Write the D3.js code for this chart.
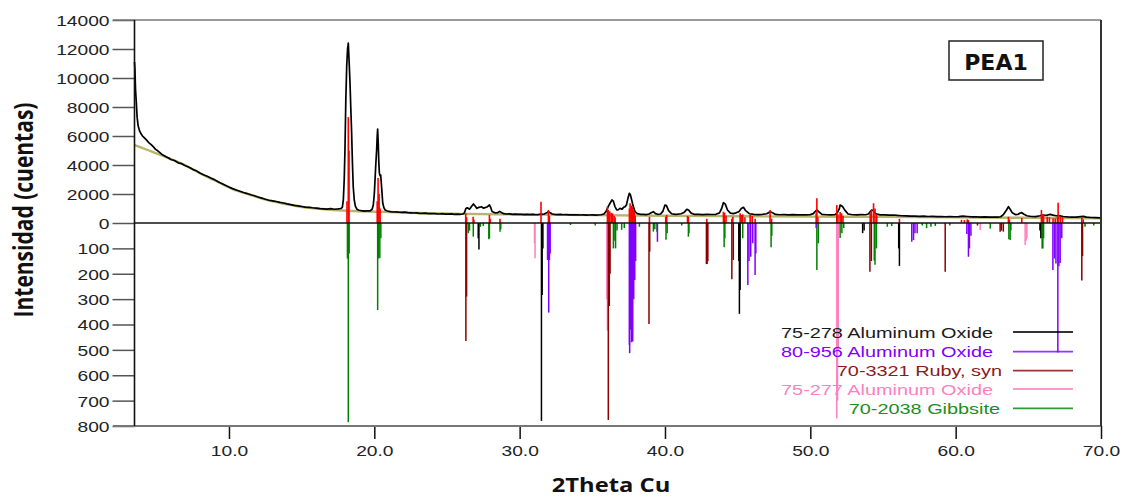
<!DOCTYPE html>
<html>
<head>
<meta charset="utf-8">
<script src="https://cdn.jsdelivr.net/npm/d3@7"></script>
<style>
  body { margin: 0; background: #fff; }
  svg { display: block; }
</style>
</head>
<body>
<svg id="chart" width="1125" height="497"></svg>
<script>
// ---- axis ticks ----
const xTicks = [10, 20, 30, 40, 50, 60, 70];
const upperTicks = [0, 2000, 4000, 6000, 8000, 10000, 12000, 14000];
const lowerTicks = [100, 200, 300, 400, 500, 600, 700, 800];

// ---- measured pattern: [2theta, counts] ----
const scan = [
  [3.50,11100],[3.53,10600],[3.57,9200],[3.62,8400],[3.68,7300],[3.75,6700],[3.85,6350],[3.95,6150],
  [4.05,6000],[4.2,5850],[4.35,5700],[4.5,5520],[4.65,5400],[4.8,5250],[4.95,5080],[5.1,4980],
  [5.25,4850],[5.4,4720],[5.55,4640],[5.7,4560],[5.85,4480],[6.0,4380],
  [6.25,4310],[6.5,4150],[6.75,4090],[7.0,3950],[7.25,3840],[7.5,3700],[7.75,3600],[8.0,3450],
  [8.25,3330],[8.5,3220],[8.75,3100],[9.0,2990],[9.25,2840],[9.5,2730],[9.75,2600],[10.0,2480],
  [10.25,2370],[10.5,2280],[10.75,2190],[11.0,2100],[11.25,2030],[11.5,1950],[11.75,1880],[12.0,1790],
  [12.25,1720],[12.5,1640],[12.75,1570],[13.0,1530],[13.25,1480],[13.5,1420],[13.75,1380],[14.0,1320],
  [14.25,1270],[14.5,1220],[14.75,1180],[15.0,1140],[15.25,1100],[15.5,1080],[15.75,1050],[16.0,1030],
  [16.25,990],[16.5,980],[16.75,960],[17.0,990],[17.25,950],[17.5,970],
  [17.7,1000],[17.8,1080],[17.87,1600],[17.93,3000],[17.98,5000],[18.04,8500],[18.1,10800],[18.16,12000],
  [18.21,12400],[18.26,11300],[18.33,9600],[18.38,8000],[18.44,6200],[18.5,4000],[18.55,2500],[18.62,1600],
  [18.7,1150],[18.8,950],[18.95,880],[19.1,850],[19.3,820],[19.5,840],[19.7,830],[19.85,950],
  [19.93,1240],[20.0,2000],[20.05,2960],[20.1,4000],[20.16,5030],[20.2,6000],[20.23,6480],[20.27,5500],
  [20.31,4200],[20.35,3430],[20.4,3250],[20.44,3300],[20.5,2500],[20.58,1380],[20.66,1050],[20.74,900],
  [20.9,830],[21.1,790],[21.3,760],[21.5,770],[21.7,740],[21.9,730],[22.1,745],[22.3,710],
  [22.5,700],[22.7,690],[22.9,700],[23.1,670],[23.3,665],[23.5,680],[23.7,650],[23.9,640],
  [24.1,655],[24.3,630],[24.5,620],[24.7,640],[24.9,615],[25.1,610],[25.3,625],[25.5,600],
  [25.7,610],[25.9,600],[26.1,620],[26.2,700],[26.3,1000],[26.4,1050],[26.55,950],[26.7,1150],
  [26.82,1310],[26.95,1150],[27.05,1010],[27.2,1080],[27.39,1120],[27.5,1020],[27.62,1060],[27.75,1100],
  [27.92,1240],[28.0,1100],[28.1,800],[28.3,700],[28.5,720],[28.62,800],[28.75,720],[28.9,640],
  [29.1,620],[29.3,630],[29.5,600],[29.7,610],[29.9,590],[30.1,600],[30.3,580],[30.5,590],
  [30.7,575],[30.9,590],[31.1,570],[31.3,580],[31.45,620],[31.55,600],[31.7,620],[31.85,700],
  [31.98,780],[32.1,700],[32.25,620],[32.4,600],[32.6,580],[32.8,590],[33.0,570],[33.2,580],
  [33.4,560],[33.6,570],[33.8,555],[34.0,560],[34.2,550],[34.4,565],[34.6,545],[34.8,550],
  [35.0,560],[35.2,545],[35.4,550],[35.6,570],[35.8,620],[35.95,800],[36.1,1150],[36.22,1360],
  [36.35,1590],[36.45,1500],[36.55,1150],[36.68,900],[36.8,920],[36.9,1010],[37.05,960],[37.15,1080],
  [37.25,1120],[37.35,1250],[37.45,1700],[37.55,2050],[37.62,1950],[37.71,1590],[37.8,1200],[37.94,780],
  [38.1,650],[38.3,600],[38.5,590],[38.7,580],[38.9,620],[39.05,700],[39.2,780],[39.35,650],
  [39.5,600],[39.7,620],[39.85,800],[40.0,1240],[40.1,1200],[40.25,850],[40.45,640],[40.7,600],
  [40.9,610],[41.1,640],[41.3,720],[41.5,940],[41.62,900],[41.8,680],[42.0,600],[42.3,590],
  [42.6,580],[42.9,600],[43.2,585],[43.5,600],[43.75,700],[43.9,1000],[44.02,1400],[44.15,1300],
  [44.3,900],[44.5,680],[44.7,650],[44.9,700],[45.1,800],[45.25,1000],[45.4,1080],[45.55,850],
  [45.8,640],[46.1,600],[46.4,580],[46.7,600],[47.0,640],[47.23,780],[47.4,700],[47.6,590],
  [47.9,570],[48.2,580],[48.5,560],[48.8,575],[49.1,560],[49.4,570],[49.7,555],[50.0,580],
  [50.2,650],[50.35,800],[50.45,900],[50.6,760],[50.8,600],[51.1,570],[51.4,560],[51.7,580],
  [51.85,700],[52.0,1000],[52.05,1240],[52.2,1150],[52.4,850],[52.6,620],[52.9,570],[53.2,560],
  [53.5,580],[53.8,570],[54.0,620],[54.12,780],[54.23,900],[54.35,850],[54.5,640],[54.8,560],
  [55.1,560],[55.4,540],[55.7,550],[56.0,520],[56.3,500],[56.6,490],[56.9,470],[57.2,480],
  [57.5,460],[57.8,470],[58.1,450],[58.4,460],[58.7,440],[59.0,450],[59.3,430],[59.6,445],
  [59.9,430],[60.2,440],[60.5,470],[60.8,450],[61.1,420],[61.4,430],[61.7,410],[62.0,420],
  [62.3,400],[62.6,410],[62.9,400],[63.1,430],[63.3,600],[63.5,900],[63.63,1120],[63.75,950],
  [63.9,700],[64.1,580],[64.3,600],[64.45,690],[64.55,710],[64.7,600],[64.9,500],[65.2,450],
  [65.5,440],[65.8,500],[66.0,550],[66.2,520],[66.5,590],[66.7,540],[66.9,500],[67.1,510],
  [67.4,450],[67.7,420],[68.0,400],[68.3,410],[68.6,440],[68.8,460],[69.0,410],[69.3,380],
  [69.6,370],[70.0,360]
];

// ---- fitted background: [2theta, counts] ----
const background = [
  [3.5,5380],[4.5,5000],[5.7,4530],[7.0,3980],[8.0,3430],[9.0,2950],[10.3,2320],[11.5,1930],
  [12.6,1590],[13.8,1330],[14.9,1120],[16.0,1000],[17.2,900],[18.5,830],[20.4,780],[23.0,690],
  [26.0,630],[30.0,590],[35.0,540],[40.0,500],[45.0,470],[50.0,440],[55.0,420],[60.0,390],
  [65.0,360],[70.0,330]
];

// ---- identified peaks (upward red sticks): [2theta, counts] ----
const peakSticks = [
  [18.12,1500],[18.21,7300],[18.26,5000],[20.2,1500],[20.26,3100],[20.33,2000],[20.4,1000],
  [26.29,670],[26.35,400],[26.8,430],[26.85,250],[27.92,550],[27.97,300],[28.65,290],
  [31.47,1470],[31.98,900],[32.05,500],
  [36.04,1120],[36.1,900],[36.2,800],[36.3,700],[36.4,660],[36.5,500],[36.57,400],
  [37.55,1000],[37.6,1360],[37.68,1200],[37.75,1100],[37.82,900],[37.9,800],[37.95,500],
  [38.93,430],[40.05,430],[40.12,550],[41.55,480],[41.61,430],[42.88,290],
  [44.02,780],[44.1,710],[44.2,500],[44.6,290],[44.67,430],[45.17,670],[45.25,550],[45.35,600],[45.5,400],
  [45.86,550],[46.0,480],[46.2,290],
  [47.23,900],[47.33,300],
  [50.4,670],[50.45,1700],[50.52,400],
  [51.82,1240],[51.9,600],[52.05,760],[52.15,670],[52.25,500],
  [54.12,670],[54.2,900],[54.35,1360],[54.45,1000],[54.57,600],
  [56.13,290],
  [60.4,220],[60.6,200],[60.8,250],[60.88,200],
  [63.63,430],[63.7,250],[64.55,340],
  [65.9,900],[65.98,600],[66.05,550],[66.3,430],[66.45,400],[66.7,320],[66.85,320],[67.0,450],[67.05,1400],[67.2,450],[67.35,400],
  [68.68,340],[68.78,250]
];

// ---- reference patterns (downward sticks): [2theta, relative intensity] ----
const corundum278 = [
  [27.15,60],[27.2,104],[31.5,780],[31.55,284],[31.6,100],[45.08,150],[45.12,358],[45.17,264],
  [53.6,40],[53.7,30],[56.08,100],[56.13,169],[65.8,30],[65.86,60]
];
const alumina956 = [
  [31.92,146],[32.0,353],[32.05,146],[32.1,120],
  [37.55,480],[37.57,513],[37.62,420],[37.7,470],[37.78,467],[37.85,300],[37.92,225],[37.98,150],
  [39.48,74],[45.7,244],[45.78,150],[45.9,133],[46.04,80],[46.2,205],[46.25,120],[50.4,20],
  [56.98,74],[57.1,67],[57.2,40],[57.35,40],[60.77,43],[60.88,133],[60.95,100],[61.05,50],
  [66.69,185],[66.8,140],[66.9,160],[67.03,510],[67.1,170],[67.19,158],[67.3,60]
];
const ruby3321 = [
  [26.3,465],[26.35,290],[36.1,776],[36.17,327],[36.22,200],[38.9,398],[38.95,113],
  [42.85,162],[42.9,162],[42.95,150],[44.6,222],[44.7,146],[54.1,192],[54.2,150],[59.28,192],
  [61.5,10],[63.06,34],[63.15,30],[63.28,34],[68.68,227],[68.73,130]
];
const alumina277 = [
  [31.02,80],[31.06,139],[36.0,300],[36.04,424],[51.82,770],[51.87,700],[51.92,500],
  [61.69,28],[64.78,87],[64.85,70],[64.9,60]
];
const gibbsite2038 = [
  [18.15,140],[18.21,785],[18.27,120],[20.23,343],[20.3,140],[20.38,138],[20.45,60],
  [26.47,40],[26.55,30],[26.81,54],[27.3,15],[27.5,12],[27.88,64],[27.92,60],[28.65,34],[28.7,25],
  [33.5,8],[35.2,10],[36.45,100],[36.5,70],[36.6,100],[36.7,30],[37.02,27],[37.2,20],[38.24,15],
  [39.2,34],[39.3,25],[39.45,34],[40.07,66],[40.15,40],[41.15,10],[41.61,54],[41.65,40],
  [44.07,96],[44.12,60],[45.35,60],[47.3,96],[47.35,50],[50.45,185],[50.55,80],[52.05,59],[52.17,40],
  [52.3,20],[54.4,148],[54.45,165],[54.55,100],[55.3,15],[55.6,12],[57.7,10],[58.0,20],[58.3,15],
  [58.6,12],[59.6,10],[62.38,22],[63.66,64],[63.75,67],[63.8,30],[65.95,100],[66.0,100],[66.05,60],
  [68.9,15],[69.5,10]
];

const phases = [
  { label: "75-278 Aluminum Oxide", color: "#000000", text: "#1a1a1a", sticks: corundum278, end: 993 },
  { label: "80-956 Aluminum Oxide", color: "#8000ff", text: "#8000ff", sticks: alumina956, end: 993 },
  { label: "70-3321 Ruby, syn", color: "#8b0000", text: "#8b1a1a", sticks: ruby3321, end: 1002 },
  { label: "75-277 Aluminum Oxide", color: "#ff80c0", text: "#ff80c0", sticks: alumina277, end: 993 },
  { label: "70-2038 Gibbsite", color: "#008000", text: "#1e8c1e", sticks: gibbsite2038, end: 1000 }
];
const drawOrder = [4, 3, 1, 2, 0];

// ---- layout ----
const svg = d3.select("#chart");
const plotLeft = 134.5, plotRight = 1101, plotTop = 20, zeroY = 223, plotBottom = 426;
const SANS = "'Liberation Sans', Arial, sans-serif";
const SX = 1.28; // horizontal stretch of the labels

const x = d3.scaleLinear().domain([3.5, 70]).range([plotLeft, plotRight]);
const yUp = d3.scaleLinear().domain([0, 14000]).range([zeroY, plotTop]);
const yDn = d3.scaleLinear().domain([0, 800]).range([zeroY, plotBottom]);

svg.append("rect").attr("width", 1125).attr("height", 497).attr("fill", "#fff");

// fitted background and measured scan
svg.append("path").datum(background)
  .attr("fill", "none").attr("stroke", "#b9b46c").attr("stroke-width", 2.4)
  .attr("d", d3.line().curve(d3.curveMonotoneX).x(d => x(d[0])).y(d => yUp(d[1])));

svg.append("path").datum(scan)
  .attr("fill", "none").attr("stroke", "#000").attr("stroke-width", 1.7)
  .attr("stroke-linejoin", "round")
  .attr("d", d3.line().x(d => x(d[0])).y(d => yUp(d[1])));

// identified peaks
svg.append("g").selectAll("line").data(peakSticks).join("line")
  .attr("x1", d => x(d[0])).attr("x2", d => x(d[0]))
  .attr("y1", yUp(0)).attr("y2", d => yUp(d[1]))
  .attr("stroke", "#ff0000").attr("stroke-width", 1.6);

// reference stick patterns
drawOrder.forEach(i => {
  const p = phases[i];
  svg.append("g").selectAll("line").data(p.sticks).join("line")
    .attr("x1", d => x(d[0])).attr("x2", d => x(d[0]))
    .attr("y1", yDn(0)).attr("y2", d => yDn(d[1]))
    .attr("stroke", p.color).attr("stroke-width", 1.5);
});

// zero line
svg.append("line").attr("x1", plotLeft).attr("x2", plotRight).attr("y1", zeroY).attr("y2", zeroY)
  .attr("stroke", "#111").attr("stroke-width", 1.4);

// ---- axes ----
function styleLeftAxis(g) {
  g.select(".domain").remove();
  g.selectAll(".tick line").attr("stroke", "#555").attr("stroke-width", 1.5);
  g.selectAll(".tick text")
    .attr("x", 0).attr("dy", "0.36em")
    .attr("transform", `translate(-25,0) scale(${SX},1)`)
    .attr("fill", "#222").style("font-family", SANS).style("font-size", "15px");
}
svg.append("g").attr("transform", `translate(${plotLeft},0)`)
  .call(d3.axisLeft(yUp).tickValues(upperTicks).tickSize(22).tickFormat(d3.format("d")))
  .call(styleLeftAxis);
svg.append("g").attr("transform", `translate(${plotLeft},0)`)
  .call(d3.axisLeft(yDn).tickValues(lowerTicks).tickSize(22).tickFormat(d3.format("d")))
  .call(styleLeftAxis);

svg.append("g").attr("transform", `translate(0,${plotBottom})`)
  .call(d3.axisBottom(x).tickValues(xTicks).tickSize(13).tickPadding(6).tickFormat(d3.format(".1f")))
  .call(g => {
    g.select(".domain").remove();
    g.selectAll(".tick line").attr("stroke", "#111").attr("stroke-width", 1.5);
    g.selectAll(".tick text")
      .attr("transform", `scale(${SX},1)`)
      .attr("fill", "#222").style("font-family", SANS).style("font-size", "15px");
  });

// frame
svg.append("line").attr("x1", 113).attr("x2", plotRight).attr("y1", plotTop).attr("y2", plotTop)
  .attr("stroke", "#777").attr("stroke-width", 1.6);
svg.append("line").attr("x1", 113).attr("x2", plotRight).attr("y1", plotBottom).attr("y2", plotBottom)
  .attr("stroke", "#777").attr("stroke-width", 2);
svg.append("line").attr("x1", plotRight).attr("x2", plotRight).attr("y1", plotTop).attr("y2", plotBottom)
  .attr("stroke", "#333").attr("stroke-width", 2);
svg.append("line").attr("x1", plotLeft).attr("x2", plotLeft).attr("y1", plotTop).attr("y2", plotBottom)
  .attr("stroke", "#111").attr("stroke-width", 1.6);

// axis titles
svg.append("text")
  .attr("transform", "translate(33,210) rotate(-90) scale(1,1.27)")
  .attr("text-anchor", "middle")
  .style("font-family", "'Open Sans', sans-serif").style("font-weight", "700").style("font-size", "21px")
  .attr("fill", "#111").text("Intensidad (cuentas)");

svg.append("text")
  .attr("transform", `translate(611,492) scale(1.25,1)`)
  .attr("text-anchor", "middle")
  .style("font-family", "'Open Sans', sans-serif").style("font-weight", "700").style("font-size", "19px")
  .attr("fill", "#111").text("2Theta Cu");

// sample tag
svg.append("rect").attr("x", 949).attr("y", 41).attr("width", 94).attr("height", 39)
  .attr("fill", "#fff").attr("stroke", "#222").attr("stroke-width", 1.5);
svg.append("text").attr("x", 996).attr("y", 69.5).attr("text-anchor", "middle")
  .style("font-family", "'DejaVu Sans', sans-serif").style("font-weight", "700").style("font-size", "22px")
  .attr("fill", "#111").text("PEA1");

// legend
const legendRows = [332, 351.7, 370.7, 389, 408.3];
phases.forEach((p, i) => {
  const cy = legendRows[i];
  svg.append("text")
    .attr("transform", `translate(${p.end},${cy + 5.5}) scale(1.29,1)`)
    .attr("text-anchor", "end")
    .style("font-family", SANS).style("font-size", "15.4px")
    .attr("fill", p.text).text(p.label);
  svg.append("line").attr("x1", 1013).attr("x2", 1073).attr("y1", cy).attr("y2", cy)
    .attr("stroke", p.color).attr("stroke-width", 1.8).attr("stroke-opacity", 0.8);
});
</script>
</body>
</html>
